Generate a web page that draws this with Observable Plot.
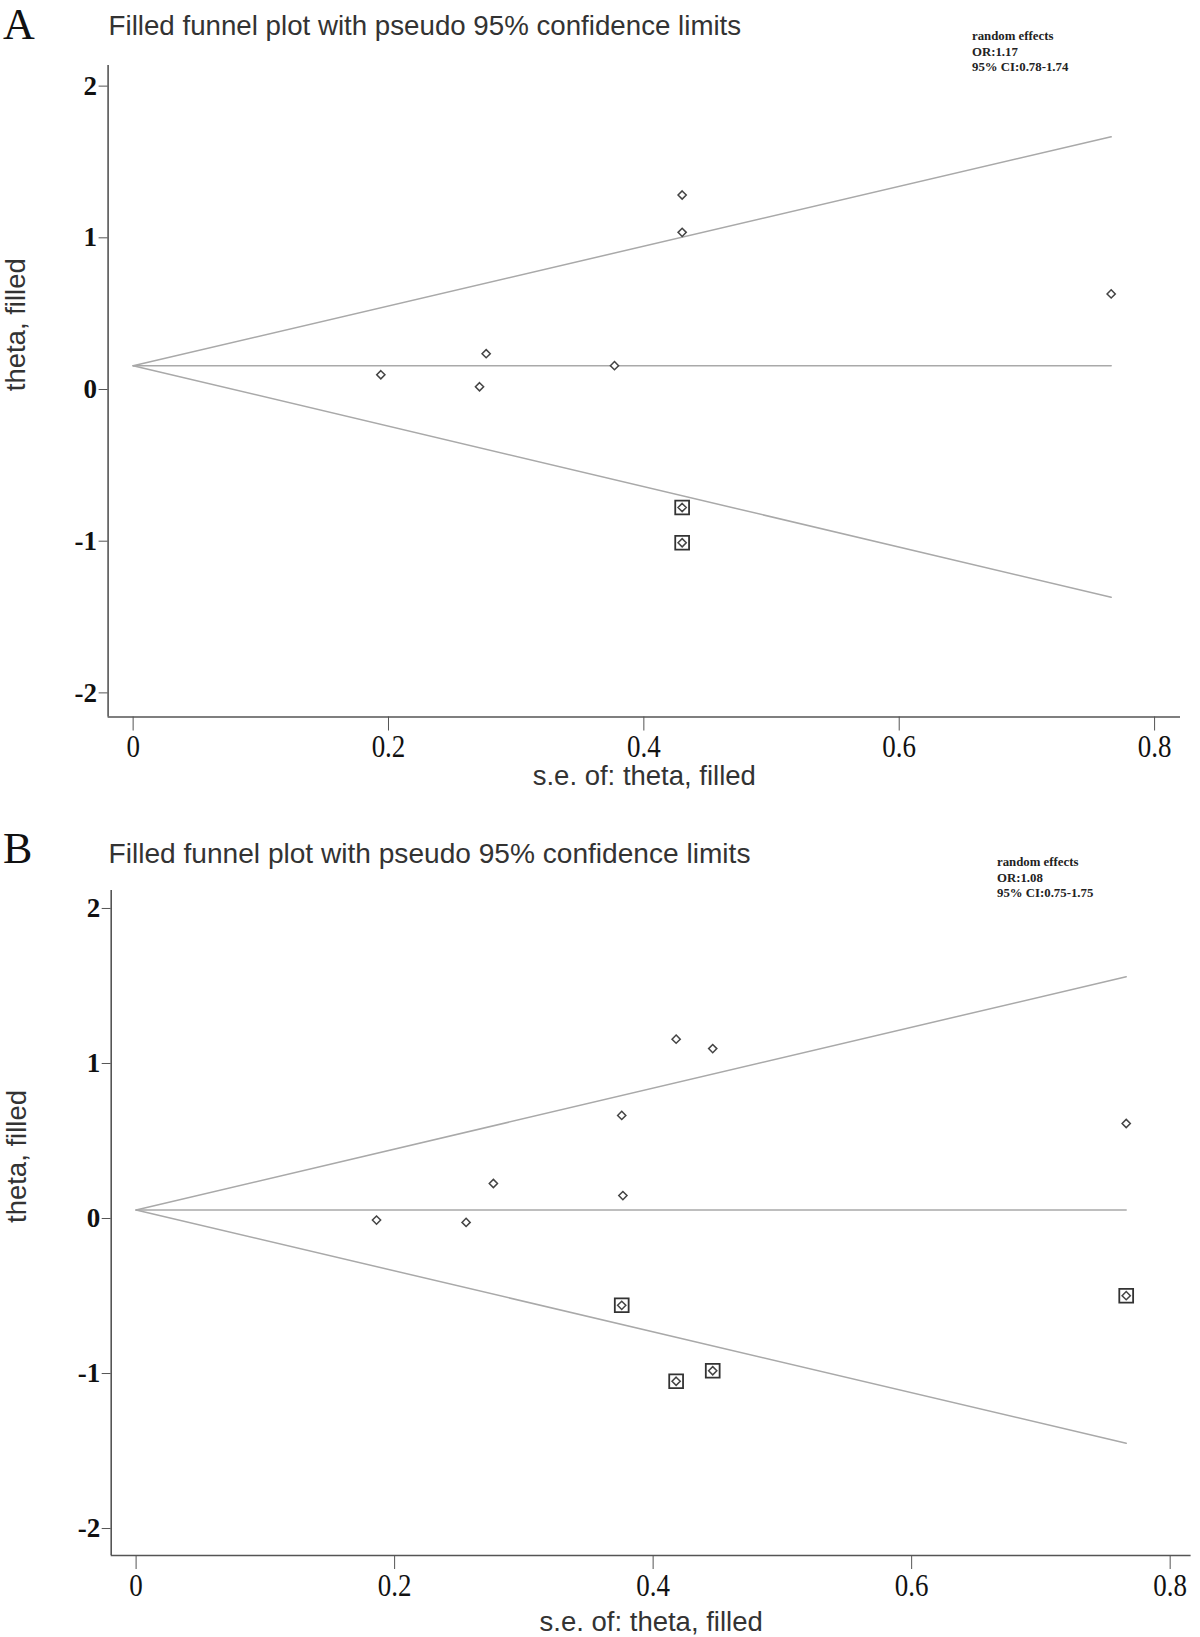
<!DOCTYPE html>
<html>
<head>
<meta charset="utf-8">
<script src="https://cdn.jsdelivr.net/npm/d3@7"></script>
<script src="https://cdn.jsdelivr.net/npm/@observablehq/plot@0.6"></script>
<style>
  body { margin: 0; background: #fff; }
  #page { position: relative; width: 1200px; height: 1637px; overflow: hidden; background: #fff; }
  .panel { position: absolute; left: 0; }
  .letter { position: absolute; font-family: "Liberation Serif", "Times New Roman", serif; font-size: 44px; color: #111; line-height: 1; white-space: nowrap; }
  .title { position: absolute; font-family: "Liberation Sans", Arial, sans-serif; color: #333; white-space: nowrap; line-height: 1; }
  .note { position: absolute; font-family: "Liberation Serif", "Times New Roman", serif; font-weight: bold; font-size: 12.8px; line-height: 15.5px; color: #222; white-space: nowrap; }
</style>
</head>
<body>
<div id="page"></div>
<script>
// ---------- shared text / ticks ----------
const panelLetters = ["A", "B"];
const plotTitle = "Filled funnel plot with pseudo 95% confidence limits";
const xLabel = "s.e. of: theta, filled";
const yLabel = "theta, filled";
const ticksX = [0, 0.2, 0.4, 0.6, 0.8];
const ticksY = [-2, -1, 0, 1, 2];

// ---------- panel A data ----------
const seA     = [0.430, 0.430, 0.766, 0.194, 0.2765, 0.2713, 0.377, 0.430, 0.430];
const thetaA  = [1.282, 1.036, 0.630, 0.097, 0.236, 0.018, 0.157, -0.778, -1.010];
const filledA = [false, false, false, false, false, false, false, true, true];
const funnelSeA    = [0, 0.766];
const funnelLowA   = [0.157, -1.370];
const funnelHighA  = [0.157, 1.666];
const pooledA = 0.157;
const noteA = ["random effects", "OR:1.17", "95% CI:0.78-1.74"];

// ---------- panel B data ----------
const seB     = [0.186, 0.2553, 0.2764, 0.3757, 0.3766, 0.4178, 0.4461, 0.766, 0.3757, 0.4178, 0.4461, 0.766];
const thetaB  = [-0.010, -0.025, 0.226, 0.665, 0.148, 1.157, 1.096, 0.613, -0.560, -1.050, -0.982, -0.498];
const filledB = [false, false, false, false, false, false, false, false, true, true, true, true];
const funnelSeB   = [0, 0.766];
const funnelLowB  = [0.055, -1.450];
const funnelHighB = [0.055, 1.560];
const pooledB = 0.055;
const noteB = ["random effects", "OR:1.08", "95% CI:0.75-1.75"];

function makePanel(cfg) {
  const pts = cfg.se.map((s, i) => ({se: s, theta: cfg.theta[i], filled: cfg.filled[i]}));
  const funnel = cfg.fse.map((s, i) => ({se: s, lo: cfg.flo[i], hi: cfg.fhi[i], mid: cfg.pooled}));
  const axisColor = "#555";
  const lineColor = "#a9a9a9";
  const svg = Plot.plot({
    width: 1200,
    height: cfg.height,
    marginTop: cfg.mt,
    marginBottom: cfg.mb,
    marginLeft: cfg.ml,
    marginRight: cfg.mr,
    x: {domain: cfg.xDomain},
    y: {domain: cfg.yDomain},
    style: {background: "white", overflow: "visible"},
    marks: [
      Plot.line(funnel, {x: "se", y: "hi", stroke: lineColor, strokeWidth: 1.5}),
      Plot.line(funnel, {x: "se", y: "lo", stroke: lineColor, strokeWidth: 1.5}),
      Plot.line(funnel, {x: "se", y: "mid", stroke: lineColor, strokeWidth: 1.5}),
      Plot.dot(pts.filter(d => d.filled), {x: "se", y: "theta", symbol: "square", r: 7.8, fill: "white", stroke: "#333", strokeWidth: 1.8}),
      Plot.dot(pts, {x: "se", y: "theta", symbol: "diamond2", r: 3.7, fill: "white", stroke: "#444", strokeWidth: 1.5}),
      Plot.ruleX([cfg.xDomain[0]], {stroke: axisColor, strokeWidth: 1.6}),
      Plot.ruleY([cfg.yDomain[0]], {stroke: axisColor, strokeWidth: 1.6}),
      Plot.axisX({ticks: ticksX, tickSize: 14, tickPadding: 3, tickFormat: d => String(d),
        fontFamily: "Liberation Serif", fontSize: 27, stroke: axisColor, fill: "#111", label: null}),
      Plot.axisY({ticks: ticksY, tickSize: 9, tickPadding: 2, tickFormat: d => String(d),
        fontFamily: "Liberation Serif", fontWeight: "bold", fontSize: 27, stroke: axisColor, fill: "#111", label: null}),
      Plot.text([xLabel], {text: d => d, frameAnchor: "bottom", dy: cfg.xLabelDy,
        fontFamily: "Liberation Sans", fontSize: 27.5, fill: "#333"}),
      Plot.text([yLabel], {text: d => d, frameAnchor: "left", dx: cfg.yLabelDx, rotate: -90,
        fontFamily: "Liberation Sans", fontSize: 27.5, fill: "#333"})
    ]
  });
  // stretch x tick labels vertically (reference digits are tall)
  svg.querySelectorAll('g[aria-label="x-axis tick label"] text').forEach(t => {
    const tr = t.getAttribute("transform") || "";
    t.setAttribute("transform", tr + " scale(1,1.2)");
  });
  return svg;
}

const page = document.getElementById("page");

function addDiv(cls, text, left, top, extra) {
  const d = document.createElement("div");
  d.className = cls;
  d.style.left = left + "px";
  d.style.top = top + "px";
  if (extra) Object.assign(d.style, extra);
  if (Array.isArray(text)) d.innerHTML = text.join("<br>"); else d.textContent = text;
  page.appendChild(d);
  return d;
}

// Panel A
const svgA = makePanel({
  se: seA, theta: thetaA, filled: filledA, fse: funnelSeA, flo: funnelLowA, fhi: funnelHighA, pooled: pooledA,
  height: 800, mt: 65, mb: 83.5, ml: 107.6, mr: 20,
  xDomain: [-0.0196, 0.8203], yDomain: [-2.159, 2.136], xLabelDy: 68, yLabelDx: -91.5
});
const wrapA = document.createElement("div");
wrapA.className = "panel"; wrapA.style.top = "0px";
wrapA.appendChild(svgA); page.appendChild(wrapA);

// Panel B
const svgB = makePanel({
  se: seB, theta: thetaB, filled: filledB, fse: funnelSeB, flo: funnelLowB, fhi: funnelHighB, pooled: pooledB,
  height: 837, mt: 90, mb: 82, ml: 110.7, mr: 9.4,
  xDomain: [-0.01927, 0.8162], yDomain: [-2.174, 2.116], xLabelDy: 75, yLabelDx: -94.5
});
const wrapB = document.createElement("div");
wrapB.className = "panel"; wrapB.style.top = "800px";
wrapB.appendChild(svgB); page.appendChild(wrapB);

// Headers and annotations
addDiv("letter", panelLetters[0], 3, 3);
addDiv("title", plotTitle, 108.6, 11.5, {fontSize: "27.7px"});
addDiv("note", noteA, 972, 29);

addDiv("letter", panelLetters[1], 3, 827);
addDiv("title", plotTitle, 108.6, 839.5, {fontSize: "28.1px"});
addDiv("note", noteB, 997, 855);
</script>
</body>
</html>
